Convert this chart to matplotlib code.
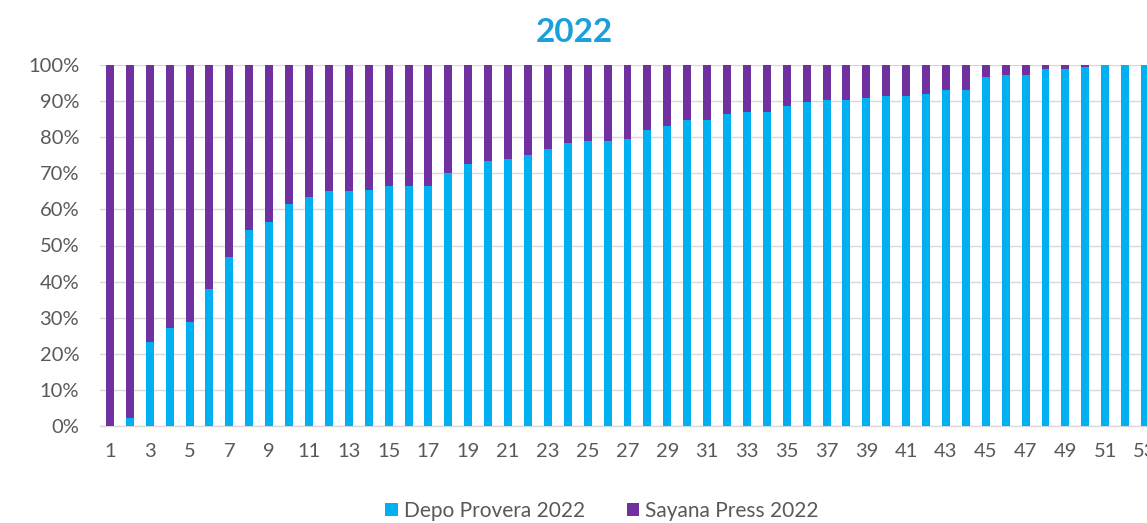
import matplotlib
matplotlib.use("Agg")
import matplotlib.pyplot as plt
from matplotlib.ticker import FuncFormatter, FixedLocator

plt.rcParams['font.family'] = ['Lato', 'DejaVu Sans']

categories = list(range(1, 54))
depo = [0, 2.3, 23.2, 27.2, 28.8, 37.9, 46.9, 54.3, 56.5, 61.6,
        63.3, 65.0, 65.0, 65.5, 66.6, 66.6, 66.6, 70.0, 72.7, 73.4,
        73.9, 75.0, 76.7, 78.5, 79.0, 79.0, 79.6, 81.9, 83.0, 84.7,
        84.7, 86.4, 87.0, 87.0, 88.6, 89.7, 90.3, 90.3, 90.8, 91.4,
        91.4, 92.0, 93.2, 93.2, 96.6, 97.1, 97.1, 98.8, 98.8, 99.4,
        100, 100, 100]
sayana = [100 - v for v in depo]
series_names = ["Depo Provera 2022", "Sayana Press 2022"]
title = "2022"

W, H = 1147, 523
fig = plt.figure(figsize=(W / 100, H / 100), dpi=100)
left_px, right_px = 100, 1155
top_px, bottom_px = 65, 426
ax = fig.add_axes([left_px / W, (H - bottom_px) / H,
                   (right_px - left_px) / W, (bottom_px - top_px) / H])

blue = '#00B0F0'
purple = '#7030A0'
ax.bar(categories, depo, width=0.4, color=blue, label=series_names[0], zorder=3)
ax.bar(categories, sayana, width=0.4, bottom=depo, color=purple,
       label=series_names[1], zorder=3)

ax.set_xlim(0.5, len(categories) + 0.5)
ax.set_ylim(0, 100)
ax.yaxis.set_major_locator(FixedLocator(range(0, 101, 10)))
ax.yaxis.set_major_formatter(FuncFormatter(lambda v, p: f"{int(v)}%"))
ax.xaxis.set_major_locator(FixedLocator(categories[::2]))
ax.set_xticklabels([str(c) for c in categories[::2]])

ax.grid(axis='y', color='#D9D9D9', linewidth=1, zorder=0)
for s in ['top', 'right', 'left']:
    ax.spines[s].set_visible(False)
ax.spines['bottom'].set_color('#D9D9D9')
ax.spines['bottom'].set_linewidth(1)
ax.tick_params(axis='both', length=0, labelsize=14.5, colors='#595959')
ax.tick_params(axis='x', pad=12)
ax.tick_params(axis='y', pad=15)

fig.text(574 / W, 1 - 32 / H, title, ha='center', va='center',
         fontsize=24, fontweight='bold', color='#1B9FDB')

fig.legend(loc='center', bbox_to_anchor=(602 / W, 1 - 511 / H), ncol=2,
           frameon=False, fontsize=15, labelcolor='#595959',
           handlelength=0.6, handleheight=0.6, columnspacing=2.0,
           handletextpad=0.3)

fig.savefig('out.png', dpi=100)
